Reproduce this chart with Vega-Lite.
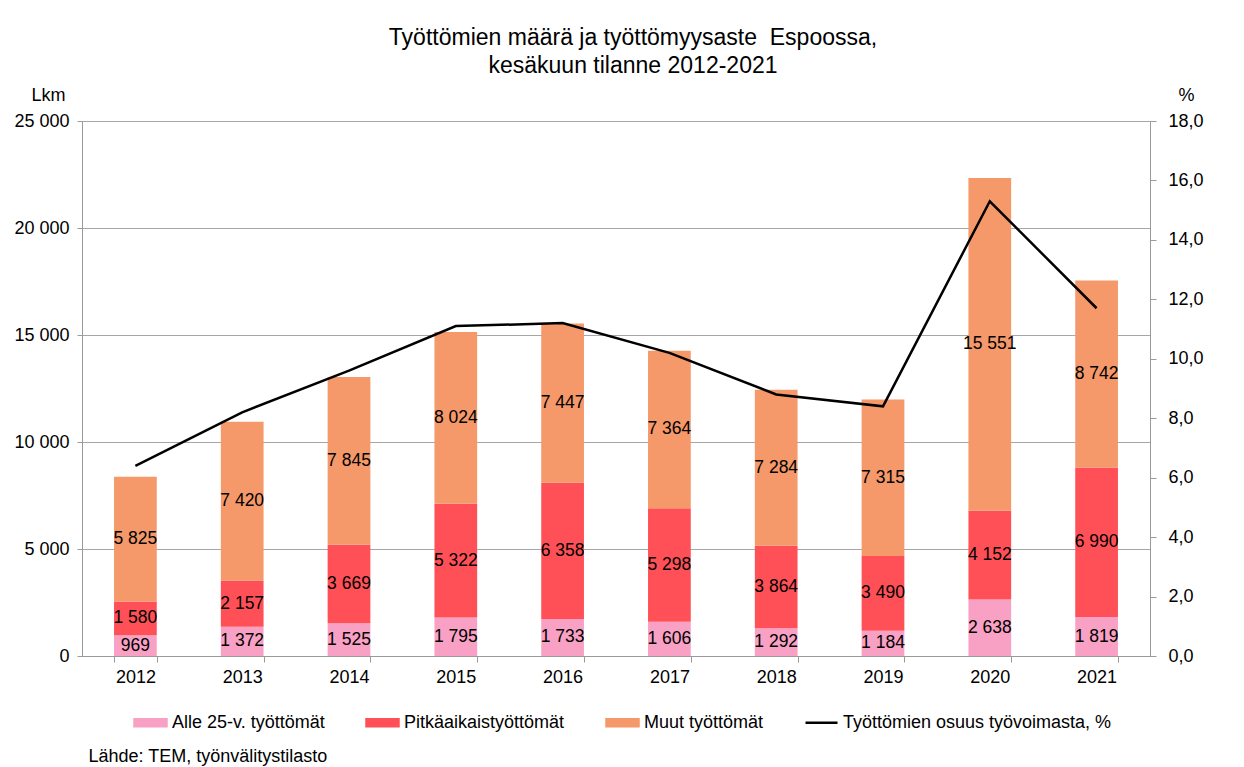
{
  "$schema": "https://vega.github.io/schema/vega-lite/v6.json",
  "width": 1068,
  "height": 535,
  "autosize": {"type": "none"},
  "padding": {"left": 82, "top": 121, "right": 94, "bottom": 111},
  "background": "white",
  "config": {
    "font": "Liberation Sans",
    "view": {"stroke": null},
    "axis": {
      "labelFont": "Liberation Sans",
      "labelFontSize": 18,
      "labelColor": "black",
      "titleFont": "Liberation Sans",
      "titleFontSize": 18,
      "titleFontWeight": "normal",
      "titleColor": "black",
      "domainColor": "#9a9a9a",
      "tickColor": "#9a9a9a",
      "gridColor": "#a6a6a6"
    }
  },
  "title": {
    "text": ["Työttömien määrä ja työttömyysaste\u00a0 Espoossa,", "kesäkuun tilanne 2012-2021"],
    "fontSize": 23,
    "lineHeight": 28,
    "fontWeight": "normal",
    "font": "Liberation Sans",
    "color": "black",
    "anchor": "middle",
    "frame": "group",
    "offset": 8,
    "dx": 17
  },
  "datasets": {
    "bars": [
      {"year": "2012", "series": "Alle 25-v. työttömät", "order": 1, "value": 969},
      {"year": "2012", "series": "Pitkäaikaistyöttömät", "order": 2, "value": 1580},
      {"year": "2012", "series": "Muut työttömät", "order": 3, "value": 5825},
      {"year": "2013", "series": "Alle 25-v. työttömät", "order": 1, "value": 1372},
      {"year": "2013", "series": "Pitkäaikaistyöttömät", "order": 2, "value": 2157},
      {"year": "2013", "series": "Muut työttömät", "order": 3, "value": 7420},
      {"year": "2014", "series": "Alle 25-v. työttömät", "order": 1, "value": 1525},
      {"year": "2014", "series": "Pitkäaikaistyöttömät", "order": 2, "value": 3669},
      {"year": "2014", "series": "Muut työttömät", "order": 3, "value": 7845},
      {"year": "2015", "series": "Alle 25-v. työttömät", "order": 1, "value": 1795},
      {"year": "2015", "series": "Pitkäaikaistyöttömät", "order": 2, "value": 5322},
      {"year": "2015", "series": "Muut työttömät", "order": 3, "value": 8024},
      {"year": "2016", "series": "Alle 25-v. työttömät", "order": 1, "value": 1733},
      {"year": "2016", "series": "Pitkäaikaistyöttömät", "order": 2, "value": 6358},
      {"year": "2016", "series": "Muut työttömät", "order": 3, "value": 7447},
      {"year": "2017", "series": "Alle 25-v. työttömät", "order": 1, "value": 1606},
      {"year": "2017", "series": "Pitkäaikaistyöttömät", "order": 2, "value": 5298},
      {"year": "2017", "series": "Muut työttömät", "order": 3, "value": 7364},
      {"year": "2018", "series": "Alle 25-v. työttömät", "order": 1, "value": 1292},
      {"year": "2018", "series": "Pitkäaikaistyöttömät", "order": 2, "value": 3864},
      {"year": "2018", "series": "Muut työttömät", "order": 3, "value": 7284},
      {"year": "2019", "series": "Alle 25-v. työttömät", "order": 1, "value": 1184},
      {"year": "2019", "series": "Pitkäaikaistyöttömät", "order": 2, "value": 3490},
      {"year": "2019", "series": "Muut työttömät", "order": 3, "value": 7315},
      {"year": "2020", "series": "Alle 25-v. työttömät", "order": 1, "value": 2638},
      {"year": "2020", "series": "Pitkäaikaistyöttömät", "order": 2, "value": 4152},
      {"year": "2020", "series": "Muut työttömät", "order": 3, "value": 15551},
      {"year": "2021", "series": "Alle 25-v. työttömät", "order": 1, "value": 1819},
      {"year": "2021", "series": "Pitkäaikaistyöttömät", "order": 2, "value": 6990},
      {"year": "2021", "series": "Muut työttömät", "order": 3, "value": 8742}
    ],
    "rate": [
      {"year": "2012", "pct": 6.4},
      {"year": "2013", "pct": 8.2},
      {"year": "2014", "pct": 9.6},
      {"year": "2015", "pct": 11.1},
      {"year": "2016", "pct": 11.2},
      {"year": "2017", "pct": 10.2},
      {"year": "2018", "pct": 8.8},
      {"year": "2019", "pct": 8.4},
      {"year": "2020", "pct": 15.3},
      {"year": "2021", "pct": 11.7}
    ]
  },
  "encoding": {
    "x": {
      "field": "year", "type": "nominal",
      "scale": {"paddingInner": 0.6, "paddingOuter": 0.3},
      "axis": {
        "labelAngle": 0,
        "tickBand": "extent",
        "tickSize": 6,
        "labelPadding": 6,
        "title": "Lähde: TEM, työnvälitystilasto",
        "titleAnchor": "start",
        "titleAlign": "left",
        "titleBaseline": "alphabetic",
        "titleX": 6,
        "titleY": 105
      }
    }
  },
  "layer": [
    {
      "data": {"name": "bars"},
      "mark": {"type": "bar"},
      "encoding": {
        "y": {
          "field": "value", "type": "quantitative", "stack": "zero",
          "scale": {"domain": [0, 25000]},
          "axis": {
            "values": [0, 5000, 10000, 15000, 20000, 25000],
            "labelExpr": "replace(format(datum.value, ','), ',', ' ')",
            "tickSize": 5,
            "labelPadding": 8,
            "grid": true,
            "title": "Lkm",
            "titleAngle": 0,
            "titleAlign": "center",
            "titleBaseline": "middle",
            "titleX": -34,
            "titleY": -26
          }
        },
        "order": {"field": "order", "type": "quantitative"},
        "color": {
          "field": "series", "type": "nominal",
          "scale": {
            "domain": ["Alle 25-v. työttömät", "Pitkäaikaistyöttömät", "Muut työttömät", "Työttömien osuus työvoimasta, %"],
            "range": ["#F9A1C5", "#FF5058", "#F5986A", "#000000"]
          },
          "legend": {
            "orient": "none",
            "legendX": 51,
            "legendY": 584,
            "direction": "horizontal",
            "columns": 4,
            "title": null,
            "padding": 0,
            "labelFont": "Liberation Sans",
            "labelFontSize": 18,
            "labelColor": "black",
            "labelLimit": 400,
            "labelOffset": 4,
            "columnPadding": 36,
            "symbolSize": 1024,
            "symbolType": "M-1,-0.22H1V0.22H-1Z",
            "encode": {
              "symbols": {
                "update": {
                  "shape": {"signal": "datum.value == 'Työttömien osuus työvoimasta, %' ? 'M-1,0H1' : 'M-1,-0.22H1V0.22H-1Z'"},
                  "fill": {"signal": "datum.value == 'Alle 25-v. työttömät' ? '#F9A1C5' : datum.value == 'Pitkäaikaistyöttömät' ? '#FF5058' : datum.value == 'Muut työttömät' ? '#F5986A' : 'transparent'"},
                  "stroke": {"signal": "datum.value == 'Työttömien osuus työvoimasta, %' ? '#000000' : 'transparent'"},
                  "strokeWidth": {"value": 2.5},
                  "opacity": {"value": 1}
                }
              }
            }
          }
        }
      }
    },
    {
      "data": {"name": "bars"},
      "transform": [
        {"stack": "value", "groupby": ["year"], "sort": [{"field": "order", "order": "ascending"}], "as": ["v0", "v1"]},
        {"calculate": "(datum.v0 + datum.v1) / 2", "as": "mid"},
        {"calculate": "replace(format(datum.value, ',d'), ',', ' ')", "as": "label"}
      ],
      "mark": {"type": "text", "fontSize": 17.5, "font": "Liberation Sans", "color": "black", "baseline": "middle", "align": "center"},
      "encoding": {
        "y": {"field": "mid", "type": "quantitative", "scale": {"domain": [0, 25000]}, "axis": null},
        "text": {"field": "label", "type": "nominal"}
      }
    },
    {
      "data": {"name": "rate"},
      "mark": {"type": "line", "strokeWidth": 2.5},
      "encoding": {
        "y": {
          "field": "pct", "type": "quantitative",
          "scale": {"domain": [0, 18]},
          "axis": {
            "orient": "right",
            "values": [0, 2, 4, 6, 8, 10, 12, 14, 16, 18],
            "labelExpr": "replace(format(datum.value, '.1f'), '.', ',')",
            "tickSize": 6,
            "labelPadding": 12,
            "grid": false,
            "title": "%",
            "titleAngle": 0,
            "titleAlign": "center",
            "titleBaseline": "middle",
            "titleX": 36,
            "titleY": -26
          }
        },
        "color": {"datum": "Työttömien osuus työvoimasta, %"}
      }
    }
  ],
  "resolve": {"scale": {"y": "independent"}}
}
